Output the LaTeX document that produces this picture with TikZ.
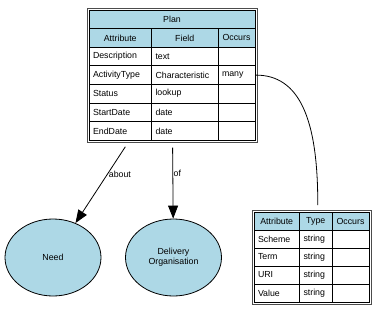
\documentclass[tikz,border=0pt]{standalone}
\usepackage{fontspec}
\setmainfont{Liberation Sans}
\usetikzlibrary{arrows.meta,shapes.geometric,fit}

\definecolor{nodeblue}{HTML}{ADD8E6}
\newcommand{\tabfont}{\fontsize{8.8}{10}\selectfont}
\newcommand{\rowh}{18.6pt}

\tikzset{
	cell/.style={draw, line width=0.8pt, outer sep=0pt, inner xsep=4pt, inner ysep=0pt,
		minimum height=\rowh, text width=#1, align=left, anchor=north west, font=\tabfont},
	headcell/.style={cell=#1, fill=nodeblue, align=center},
	frame/.style={draw=black!70, line width=0.8pt, inner sep=2pt},
	concept/.style={ellipse, draw, line width=0.8pt, fill=nodeblue, minimum width=96pt,
		minimum height=77pt, align=center, font=\tabfont},
	rel/.style={-{Triangle[length=13pt,width=10pt]}, line width=0.8pt, shorten <=5pt},
}

\begin{document}
\begin{tikzpicture}[x=1pt,y=-1pt]
		\useasboundingbox (0,0) rectangle (387,315);
		
		% Plan table
		\node[headcell=158pt] (p-title) at (89,10) {Plan};
		\node[headcell=54.5pt] (p-head-a) at (p-title.south west) {Attribute};
		\node[headcell=58.5pt] (p-head-b) at (p-head-a.north east) {Field};
		\node[headcell=29pt] (p-head-c) at (p-head-b.north east) {Occurs};
		
		\node[cell=54.5pt] (p-desc-a) at (p-head-a.south west) {Description};
		\node[cell=58.5pt] (p-desc-b) at (p-desc-a.north east) {text};
		\node[cell=29pt] (p-desc-c) at (p-desc-b.north east) {};
		
		\node[cell=54.5pt] (p-act-a) at (p-desc-a.south west) {ActivityType};
		\node[cell=58.5pt] (p-act-b) at (p-act-a.north east) {Characteristic};
		\node[cell=29pt] (p-act-c) at (p-act-b.north east) {many};
		
		\node[cell=54.5pt] (p-stat-a) at (p-act-a.south west) {Status};
		\node[cell=58.5pt] (p-stat-b) at (p-stat-a.north east) {lookup};
		\node[cell=29pt] (p-stat-c) at (p-stat-b.north east) {};
		
		\node[cell=54.5pt] (p-start-a) at (p-stat-a.south west) {StartDate};
		\node[cell=58.5pt] (p-start-b) at (p-start-a.north east) {date};
		\node[cell=29pt] (p-start-c) at (p-start-b.north east) {};
		
		\node[cell=54.5pt] (p-end-a) at (p-start-a.south west) {EndDate};
		\node[cell=58.5pt] (p-end-b) at (p-end-a.north east) {date};
		\node[cell=29pt] (p-end-c) at (p-end-b.north east) {};
		
		\node[frame, fit=(p-title)(p-end-c)] (plan) {};
		
		% Characteristic table
		\renewcommand{\rowh}{18pt}
		\node[headcell=37.5pt] (t-head-a) at (254,212) {Attribute};
		\node[headcell=24.5pt] (t-type) at (t-head-a.north east) {Type};
		\node[headcell=29pt] (t-head-c) at (t-type.north east) {Occurs};
		
		\node[cell=37.5pt] (t-scheme-a) at (t-head-a.south west) {Scheme};
		\node[cell=24.5pt] (t-scheme-b) at (t-scheme-a.north east) {string};
		\node[cell=29pt] (t-scheme-c) at (t-scheme-b.north east) {};
		
		\node[cell=37.5pt] (t-term-a) at (t-scheme-a.south west) {Term};
		\node[cell=24.5pt] (t-term-b) at (t-term-a.north east) {string};
		\node[cell=29pt] (t-term-c) at (t-term-b.north east) {};
		
		\node[cell=37.5pt] (t-uri-a) at (t-term-a.south west) {URI};
		\node[cell=24.5pt] (t-uri-b) at (t-uri-a.north east) {string};
		\node[cell=29pt] (t-uri-c) at (t-uri-b.north east) {};
		
		\node[cell=37.5pt] (t-val-a) at (t-uri-a.south west) {Value};
		\node[cell=24.5pt] (t-val-b) at (t-val-a.north east) {string};
		\node[cell=29pt] (t-val-c) at (t-val-b.north east) {};
		
		\node[frame, fit=(t-head-a)(t-val-c)] (chars) {};
		
		% concepts
		\node[concept] (need) at (53,257.5) {Need};
		\node[concept] (org) at (173.5,257.5) {Delivery\\Organisation};
		
		\draw[rel] (plan) -- (need) node[pos=0.4, right, inner sep=1.5pt, font=\tabfont] {about};
		\draw[rel] (plan) -- (org) node[pos=0.4, right, inner sep=0.5pt, font=\tabfont] {of};
		
		\draw[line width=0.8pt, shorten >=7pt] (p-act-c.east) .. controls (300,74.5) and (318,120) .. ([xshift=2pt]t-type.north);
	\end{tikzpicture}
\end{document}
